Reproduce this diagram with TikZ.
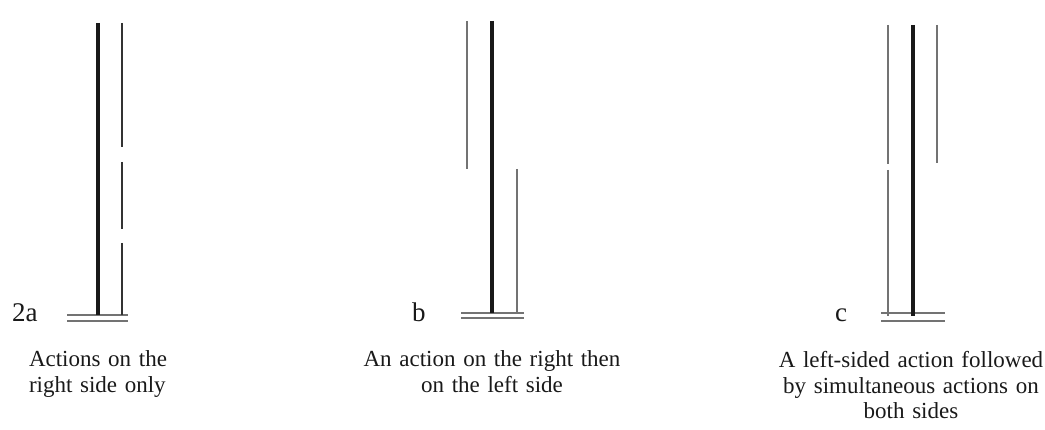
\documentclass[tikz,border=0pt]{standalone}
\usepackage{fontspec}
\setmainfont{Liberation Serif}
\begin{document}
\begin{tikzpicture}[x=1pt,y=-1pt,
  thickline/.style={line width=3.2pt,black!90},
  thinline/.style={line width=1.8pt,black!55},
  darkthin/.style={line width=1.9pt,black!80},
  groundline/.style={line width=1.5pt,black!55},
  panellabel/.style={font=\fontsize{27}{30}\selectfont,inner sep=0pt,anchor=base west,text=black!90},
  caption/.style={font=\fontsize{23}{25.5}\selectfont,inner sep=0pt,anchor=base,text width=280pt,align=center,text=black!90}]
\useasboundingbox (0,0) rectangle (1045,430);

% ---------- panel a ----------
\draw[groundline] (67,315) -- (128,315);
\draw[groundline] (67,321) -- (128,321);
\draw[thickline] (98,23) -- (98,315);
\draw[darkthin] (122,23) -- (122,147);
\draw[darkthin] (122,162) -- (122,229);
\draw[darkthin] (122,243) -- (122,315);
\node[panellabel] (la) at (12,322) {2a};
\node[caption,text width=200pt,align=left] (ca) at (129,367) {Actions on the\\right side only};

% ---------- panel b ----------
\draw[groundline] (461,313) -- (524,313);
\draw[groundline] (461,318) -- (524,318);
\draw[thickline] (492,21) -- (492,313);
\draw[thinline] (467,21) -- (467,169);
\draw[thinline] (517,169) -- (517,313);
\node[panellabel] (lb) at (412,322) {b};
\node[caption] (cb) at (492,367) {An action on the right then\\on the left side};

% ---------- panel c ----------
\draw[groundline] (881,313) -- (945,313);
\draw[groundline] (881,321) -- (945,321);
\draw[thickline] (913,25) -- (913,316);
\draw[thinline] (888,25) -- (888,164);
\draw[thinline] (888,170) -- (888,316);
\draw[thinline] (937,25) -- (937,163);
\node[panellabel] (lc) at (835,322) {c};
\node[caption] (cc) at (911,368) {A left-sided action followed\\by simultaneous actions on\\both sides};
\end{tikzpicture}
\end{document}
